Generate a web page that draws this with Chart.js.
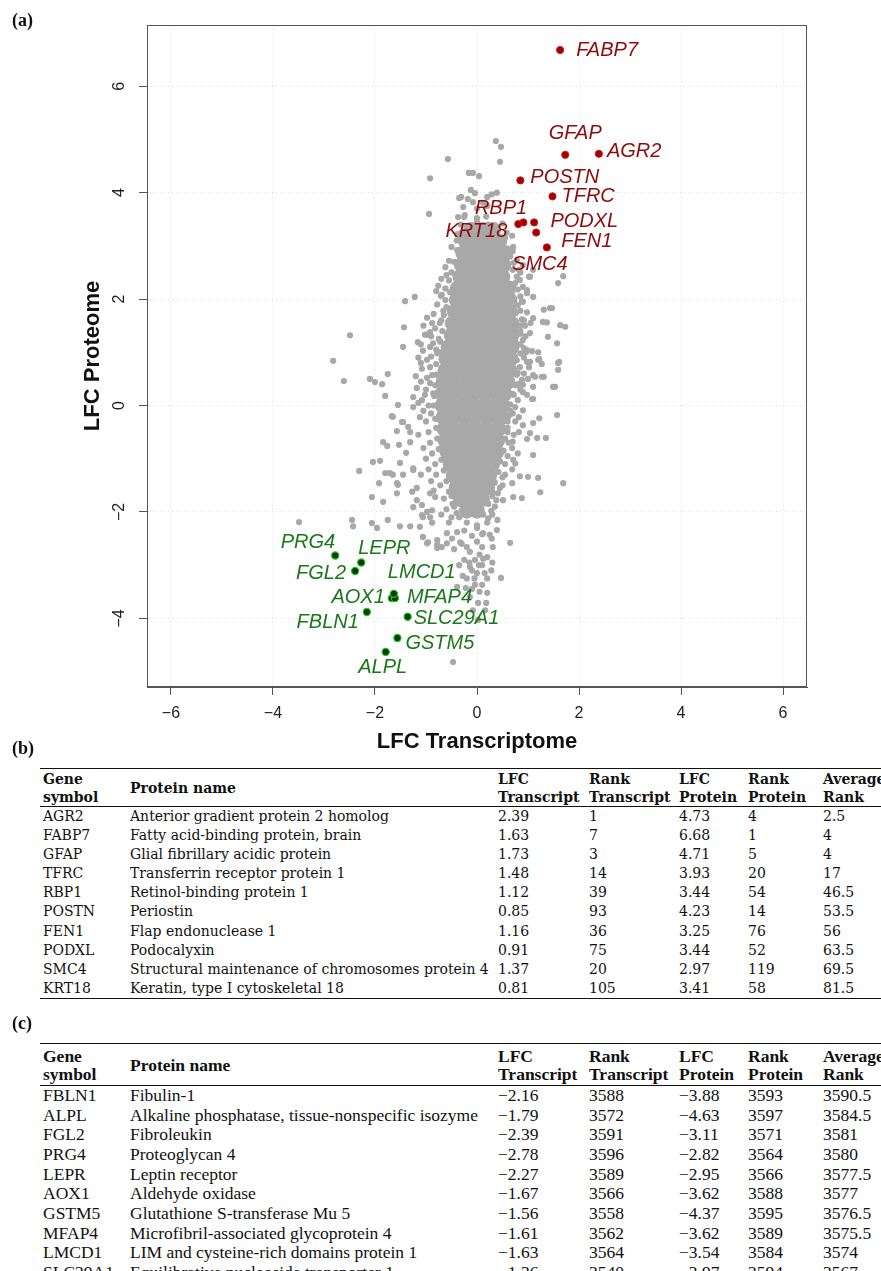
<!DOCTYPE html>
<html>
<head>
<meta charset="utf-8">
<script src="https://cdn.jsdelivr.net/npm/chart.js@4.4.1/dist/chart.umd.min.js"></script>
<style>
  html, body { margin: 0; padding: 0; background: #fff; }
  body { position: relative; width: 881px; height: 1271px; overflow: hidden; }
  #plot { position: absolute; left: 0; top: 0; }
  .panel { position: absolute; left: 12px; font-family: "Liberation Serif", serif; font-weight: bold; font-size: 18px; line-height: 18px; color: #111; }
  .tbl { position: absolute; left: 40px; width: 900px; border-collapse: collapse; table-layout: fixed; color: #111; }
  .tbl th, .tbl td { padding: 0 0 0 3px; text-align: left; white-space: nowrap; overflow: hidden; vertical-align: middle; }
  .tbl thead tr { border-top: 1.5px solid #111; border-bottom: 1px solid #111; }
  .tbl tbody tr:last-child { border-bottom: 1.5px solid #111; }
  .tbl th { font-weight: bold; line-height: 18px; }
  #tblB { top: 768px; font-family: "DejaVu Serif", serif; font-size: 14px; }
  #tblB thead tr { height: 38px; }
  #tblB tbody tr { height: 19.1px; line-height: 19px; }
  #tblC { top: 1043px; font-family: "Liberation Serif", serif; font-size: 17.5px; }
  #tblC thead tr { height: 42px; }
  #tblC tbody tr { height: 19.7px; line-height: 19px; }
</style>
</head>
<body>
<canvas id="plot" width="881" height="760"></canvas>
<div class="panel" style="top:11px">(a)</div>
<div class="panel" style="top:739px">(b)</div>
<div class="panel" style="top:1014px">(c)</div>
<table class="tbl" id="tblB"></table>
<table class="tbl" id="tblC"></table>
<script>
// axes
const xTicks = [-6, -4, -2, 0, 2, 4, 6];
const yTicks = [-4, -2, 0, 2, 4, 6];
const xTitle = "LFC Transcriptome";
const yTitle = "LFC Proteome";

// (b) most up-regulated
const upGenes = ["AGR2", "FABP7", "GFAP", "TFRC", "RBP1", "POSTN", "FEN1", "PODXL", "SMC4", "KRT18"];
const upNames = ["Anterior gradient protein 2 homolog", "Fatty acid-binding protein, brain", "Glial fibrillary acidic protein",
  "Transferrin receptor protein 1", "Retinol-binding protein 1", "Periostin", "Flap endonuclease 1", "Podocalyxin",
  "Structural maintenance of chromosomes protein 4", "Keratin, type I cytoskeletal 18"];
const upLfcTranscript = [2.39, 1.63, 1.73, 1.48, 1.12, 0.85, 1.16, 0.91, 1.37, 0.81];
const upRankTranscript = [1, 7, 3, 14, 39, 93, 36, 75, 20, 105];
const upLfcProtein = [4.73, 6.68, 4.71, 3.93, 3.44, 4.23, 3.25, 3.44, 2.97, 3.41];
const upRankProtein = [4, 1, 5, 20, 54, 14, 76, 52, 119, 58];
const upAvgRank = [2.5, 4, 4, 17, 46.5, 53.5, 56, 63.5, 69.5, 81.5];

// (c) most down-regulated
const downGenes = ["FBLN1", "ALPL", "FGL2", "PRG4", "LEPR", "AOX1", "GSTM5", "MFAP4", "LMCD1", "SLC29A1"];
const downNames = ["Fibulin-1", "Alkaline phosphatase, tissue-nonspecific isozyme", "Fibroleukin", "Proteoglycan 4",
  "Leptin receptor", "Aldehyde oxidase", "Glutathione S-transferase Mu 5", "Microfibril-associated glycoprotein 4",
  "LIM and cysteine-rich domains protein 1", "Equilibrative nucleoside transporter 1"];
const downLfcTranscript = [-2.16, -1.79, -2.39, -2.78, -2.27, -1.67, -1.56, -1.61, -1.63, -1.36];
const downRankTranscript = [3588, 3572, 3591, 3596, 3589, 3566, 3558, 3562, 3564, 3540];
const downLfcProtein = [-3.88, -4.63, -3.11, -2.82, -2.95, -3.62, -4.37, -3.62, -3.54, -3.97];
const downRankProtein = [3593, 3597, 3571, 3564, 3566, 3588, 3595, 3589, 3584, 3594];
const downAvgRank = [3590.5, 3584.5, 3581, 3580, 3577.5, 3577, 3576.5, 3575.5, 3574, 3567];

// dense middle of the grey cloud, read row by row: [LFC protein, [LFC transcript...]]
const cloudCore = [
  [3.30, [-0.12, 0.10, 0.32]],
  [3.08, [-0.22, 0.00, 0.22, 0.44]],
  [2.86, [-0.27, -0.05, 0.17, 0.39, 0.55]],
  [2.64, [-0.30, -0.08, 0.14, 0.36, 0.52]],
  [2.42, [-0.33, -0.11, 0.11, 0.33, 0.50]],
  [2.20, [-0.38, -0.16, 0.06, 0.28, 0.50, 0.62]],
  [1.98, [-0.40, -0.20, 0.02, 0.24, 0.46, 0.64]],
  [1.76, [-0.44, -0.24, -0.02, 0.20, 0.42, 0.64]],
  [1.54, [-0.48, -0.28, -0.06, 0.16, 0.38, 0.60, 0.68]],
  [1.32, [-0.50, -0.32, -0.10, 0.12, 0.34, 0.56, 0.68]],
  [1.10, [-0.56, -0.36, -0.14, 0.08, 0.30, 0.52, 0.68]],
  [0.88, [-0.60, -0.40, -0.18, 0.04, 0.26, 0.48, 0.66]],
  [0.66, [-0.62, -0.44, -0.22, 0.00, 0.22, 0.44, 0.64]],
  [0.44, [-0.66, -0.46, -0.24, -0.02, 0.20, 0.42, 0.60]],
  [0.22, [-0.68, -0.50, -0.28, -0.06, 0.16, 0.38, 0.54]],
  [0.00, [-0.68, -0.50, -0.30, -0.08, 0.14, 0.36, 0.50]],
  [-0.22, [-0.66, -0.48, -0.26, -0.04, 0.18, 0.40, 0.48]],
  [-0.44, [-0.64, -0.46, -0.24, -0.02, 0.20, 0.42]],
  [-0.66, [-0.62, -0.42, -0.20, 0.02, 0.24, 0.40]],
  [-0.88, [-0.58, -0.38, -0.16, 0.06, 0.28, 0.38]],
  [-1.10, [-0.52, -0.32, -0.10, 0.12, 0.30]],
  [-1.32, [-0.46, -0.26, -0.04, 0.18, 0.24]],
  [-1.54, [-0.40, -0.20, 0.02, 0.20]],
  [-1.76, [-0.32, -0.12, 0.10]],
  [-1.98, [-0.20, 0.00]]
];

// grey proteins hugging the core: [LFC transcript, LFC protein]
const cloudEdge = [
  [-0.32,3.4],[0.5,3.42],[-0.38,3.22],[0.58,3.25],[-0.5,2.98],[0.7,2.9],[-0.55,2.72],[-0.62,2.6],[0.72,2.68],
  [0.82,2.55],[-0.6,2.45],[-0.7,2.38],[0.78,2.42],[0.85,2.5],[-0.62,2.2],[-0.8,2.15],[0.8,2.18],[-0.62,1.98],
  [-0.78,1.9],[0.85,2.05],[0.8,1.88],[-0.66,1.78],[-0.85,1.72],[-0.98,1.65],[0.85,1.78],[0.98,1.75],[-0.7,1.6],
  [-0.82,1.45],[-1.05,1.5],[0.85,1.5],[0.92,1.6],[1.05,1.55],[-0.68,1.4],[-0.9,1.3],[0.85,1.4],[0.95,1.3],
  [-0.72,1.2],[-0.92,1.1],[-1.1,1.15],[0.85,1.15],[0.92,1.08],[-0.78,0.98],[-0.9,0.92],[-1.15,0.9],[0.85,0.98],
  [0.92,0.9],[1.02,0.72],[-0.8,0.78],[-0.92,0.72],[-1.1,0.8],[0.84,0.72],[0.92,0.6],[1.0,0.5],[-0.8,0.58],
  [-0.98,0.52],[-1.2,0.55],[0.78,0.58],[0.88,0.48],[-0.82,0.38],[-1.0,0.3],[-1.1,0.45],[0.76,0.38],[0.85,0.3],
  [0.98,0.2],[-0.84,0.18],[-1.02,0.2],[0.7,0.22],[0.8,0.1],[-0.85,0.0],[-1.05,-0.1],[-1.15,0.05],[0.65,0.02],
  [0.7,-0.15],[0.82,-0.22],[-0.82,-0.25],[-1.0,-0.3],[-1.12,-0.22],[0.62,-0.2],[0.75,-0.3],[-0.8,-0.42],
  [-0.95,-0.5],[-1.15,-0.55],[0.6,-0.42],[0.72,-0.55],[0.82,-0.5],[-0.78,-0.62],[-0.92,-0.7],[-1.05,-0.8],
  [0.55,-0.62],[0.7,-0.68],[-0.75,-0.82],[-0.88,-0.9],[-1.0,-1.0],[0.52,-0.85],[0.6,-0.95],[-0.7,-1.02],
  [-0.82,-1.1],[-0.95,-1.2],[-1.1,-1.3],[0.45,-1.05],[0.55,-1.1],[-0.65,-1.22],[-0.8,-1.3],[-0.9,-1.42],
  [0.42,-1.25],[0.5,-1.35],[-0.6,-1.42],[-0.72,-1.5],[-0.85,-1.6],[0.35,-1.45],[0.45,-1.55],[-0.55,-1.62],
  [-0.65,-1.75],[0.3,-1.62],[0.38,-1.78],[-0.48,-1.85],[-0.6,-1.95],[0.22,-1.85],[0.28,-1.98],[-0.4,-2.02],
  [-0.5,-2.1],[-0.7,-2.05],[0.12,-2.05],[0.22,-2.12],[0.4,-2.15],[-0.3,-2.6],[-0.45,-2.7],[0.05,-2.8],
  [-0.15,-2.95],[0.12,-2.88],[-0.35,-3.0],[0.3,-2.95],[-0.05,-3.25],[0.15,-3.15],[-0.28,-3.2],[0.05,-3.5],
  [-0.1,-3.45],[0.28,-3.1]
];

// scattered grey proteins further out: [LFC transcript, LFC protein]
const cloudFringe = [
  [-0.92,4.27],[-0.94,3.6],[-0.57,4.63],[0.37,4.97],[0.47,4.86],[0.45,4.58],[-0.16,4.37],[-0.08,4.37],[0.04,4.31],
  [-0.12,4.05],[-0.04,3.99],[-0.35,3.9],[-0.27,3.73],[-0.25,3.54],[0.2,3.92],[0.29,3.97],[0.39,4.0],[-0.08,3.82],
  [0.12,3.81],[-0.31,3.92],[-0.18,3.88],[0.0,3.7],[0.2,3.75],[-0.37,3.54],[-0.24,3.58],[0,3.52],[0.18,3.55],
  [-0.33,3.17],[-0.39,2.92],[-0.2,3.05],[-0.29,2.79],[0.69,3.19],[0.71,2.98],[0.78,2.73],[0.9,2.64],[1.04,2.42],
  [1.59,2.3],[1.69,2.43],[1.02,2.42],[1.1,2.55],[-0.2,3.35],[0.0,3.45],[0.22,3.4],[0.4,3.3],[0.55,3.15],[-0.4,3.1],
  [-0.3,3.25],[0.6,2.95],[0.65,2.8],[0.7,2.55],[-0.45,2.7],[-0.5,2.5],[-0.55,2.35],[0.75,2.3],
  [-0.76,2.25],[-1.22,2.04],[-1.41,1.96],[-2.49,1.32],[-2.82,0.84],[-1.43,1.47],[-1.45,1.1],[-1.16,1.19],[-0.98,1.33],
  [-0.92,1.38],[-0.73,1.55],[-0.69,2.08],[-0.53,2.13],[-0.88,1.55],[-1.02,1.33],[-0.71,2.06],[-0.6,1.85],[-0.65,1.7],
  [-0.75,1.25],[-0.8,1.05],[-0.86,1.17],[-0.73,1.0],[-0.69,0.86],[-1.06,1.03],[-0.98,0.86],[-1.08,0.69],[-0.88,0.57],
  [-0.92,0.42],[-0.86,0.23],[-1.25,0.16],[-1.08,0.1],[-1.18,0.33],[-1.25,-0.03],[-0.95,0.0],[-0.9,-0.15],
  [-2.61,0.46],[-2.1,0.5],[-2.0,0.44],[-1.86,0.4],[-1.75,0.59],[-1.8,0.18],[-1.55,0.01],[-1.65,-0.21],[-1.45,-0.31],
  [-1.35,-0.4],[-1.31,-0.5],[-1.57,-0.48],[-1.84,-0.69],[-1.76,-0.76],[-1.53,-0.74],[-1.39,-0.89],[-2.04,-1.06],
  [-1.9,-1.04],[-2.31,-1.23],[-1.8,-1.27],[-1.65,-1.3],[-1.51,-1.08],[-1.25,-1.18],[-1.92,-1.46],[-1.55,-1.49],
  [-1.45,-1.3],[-2.06,-1.72],[-1.84,-1.81],[-1.57,-1.65],[-1.27,-1.62],[-1.18,-1.78],[-1.25,-1.91],[-1.08,-1.87],
  [-0.92,-1.65],[-0.82,-1.72],[-0.98,-2.0],[-1.08,-2.06],[-0.92,-2.1],[-2.45,-2.15],[-2.43,-2.27],[-2.06,-2.21],
  [-1.96,-2.3],[-1.75,-2.15],[-1.51,-2.27],[-1.31,-2.27],[-1.12,-2.28],[-1.06,-2.47],[-0.96,-2.57],[-0.78,-2.53],
  [-0.69,-2.66],[-0.78,-2.68],[-0.59,-2.4],[-0.49,-2.5],[-0.39,-2.38],[-0.33,-2.57],[-0.2,-2.66],[-0.14,-2.75],
  [0,-2.56],[0.1,-2.66],[0.25,-2.43],[0.39,-2.34],[0,-2.3],[0.12,-2.4],[0.29,-2.5],[0.65,-2.58],[-3.49,-2.19],
  [-1.67,-0.2],[-1.47,-0.31],[-1.31,-0.69],[-1.25,-1.21],[-1.71,-1.27],[-1.57,-1.46],[-1.18,-1.55],[-0.88,-1.97],
  [-1.06,-2.1],[-0.88,-2.2],[-0.78,-2.62],[-0.98,-2.59],[-0.59,-2.59],
  [-0.04,-2.9],[-0.14,-3.03],[0,-3.15],[-0.04,-3.37],[0.1,-3.37],[-0.39,-3.41],[-0.22,-3.43],[-0.14,-3.6],[0.02,-3.71],
  [0.16,-3.85],[-0.08,-3.85],[0.02,-4.03],[0.18,-3.71],[0.04,-3.0],[0.2,-2.85],[0.31,-2.66],[-0.47,-4.82],[0.47,-3.24],
  [0.2,-3.52],[-0.25,-2.9],[-0.1,-3.1],[0.1,-3.0],[0.2,-3.25],[-0.2,-3.25],[-0.2,-2.2],[0.0,-2.25],[0.2,-2.2],
  [-0.35,-2.1],[0.3,-2.05],[0.1,-2.42],[-0.1,-2.45],[-0.25,-2.35],[-0.45,-1.9],[-0.5,-1.7],[-0.55,-2.2],[0.35,-1.9],
  [0.3,-1.7],
  [1.1,1.64],[1.29,1.57],[1.43,1.83],[1.31,1.8],[1.47,1.83],[1.39,1.29],[1.57,1.17],[1.63,1.51],[1.73,1.48],[1.22,0.87],
  [0.98,1.04],[1.04,0.82],[1.61,0.82],[0.9,1.95],[0.98,2.17],[1.1,2.04],[0.65,2.23],[1.37,1.56],[1.04,1.36],[0.96,1.0],
  [1.08,1.02],[1.2,0.86],[1.27,0.78],[1.14,0.54],[1.31,0.54],[1.1,0.35],[1.49,0.35],[1.59,0.67],[1.1,0.12],[0.75,-0.03],
  [0.9,-0.09],[0.98,2.11],[0.9,2.23],[0.84,2.36],[0.71,2.0],[0.88,1.95],[0.76,1.74],[0.9,1.23],[0.98,0.82],[0.8,0.61],
  [0.94,1.5],[0.88,1.62],[0.75,1.42],[0.75,1.05],[0.78,0.85],[0.8,0.4],[0.72,0.2],[0.75,1.2],[0.85,1.35],[1.2,1.0],
  [1.53,0.35],[1.08,0.12],[0.9,0.25],[0.9,0.39],[1.1,0.57],[1.27,0.54],[1.59,0.8],
  [1.57,-0.18],[1.69,-1.46],[1.24,-1.63],[1.35,-0.61],[1.18,-0.61],[1.1,-0.93],[0.98,-0.63],[1.04,-0.52],[0.9,-0.37],
  [1.1,-0.33],[1.22,-0.24],[0.88,-1.74],[0.71,-1.72],[0.69,-1.46],[0.84,-1.33],[1.0,-1.34],[1.2,-1.36],[0.8,-0.9],
  [0.75,-1.09],[0.69,-0.8],[0.71,-1.02],[0.69,-1.2],[0.41,-1.65],[0.51,-1.78],[0.6,-0.5],[0.62,-0.7],[0.55,-1.3],
  [0.5,-1.5],[0.6,-0.3],[0.65,-0.1]
];

// where each gene name sits next to its dot: [dx px, dy px, align]
const labelPlacement = {
  FABP7: [16, 0, "left"], GFAP: [10, -21, "center"], AGR2: [8, -2, "left"], POSTN: [10, -3, "left"],
  TFRC: [9, 0, "left"], RBP1: [-7, -14, "right"], PODXL: [27, -1, "left"], KRT18: [-11, 7, "right"],
  FEN1: [25, 9, "left"], SMC4: [-7, 17, "center"],
  PRG4: [0, -13, "right"], LEPR: [-3, -14, "left"], FGL2: [-9, 2, "right"], LMCD1: [-6, -21, "left"],
  AOX1: [-7, -1, "right"], MFAP4: [12, -1, "left"], FBLN1: [-8, 10, "right"], SLC29A1: [6, 2, "left"],
  GSTM5: [8, 5, "left"], ALPL: [-3, 16, "center"]
};

const minus = (v) => (v < 0 ? "\u2212" + Math.abs(v) : String(v));
const fmtLfc = (v) => (v < 0 ? "\u2212" + Math.abs(v).toFixed(2) : v.toFixed(2));

const corePoints = cloudCore.flatMap(([yv, xs]) => xs.map((xv) => ({ x: xv, y: yv })));
const greyPoints = cloudEdge.concat(cloudFringe).map(([xv, yv]) => ({ x: xv, y: yv }));
const upPoints = upGenes.map((g, i) => ({ x: upLfcTranscript[i], y: upLfcProtein[i] }));
const downPoints = downGenes.map((g, i) => ({ x: downLfcTranscript[i], y: downLfcProtein[i] }));

const rAxes = {
  id: "rAxes",
  afterDatasetsDraw(chart) {
    const { ctx, scales: { x, y } } = chart;
    ctx.save();
    ctx.font = "italic 20px 'Liberation Sans', Arial, sans-serif";
    ctx.textBaseline = "middle";
    const put = (genes, xs, ys, color) => {
      ctx.fillStyle = color;
      genes.forEach((g, i) => {
        const [dx, dy, align] = labelPlacement[g];
        ctx.textAlign = align;
        ctx.fillText(g, x.getPixelForValue(xs[i]) + dx, y.getPixelForValue(ys[i]) + dy);
      });
    };
    put(upGenes, upLfcTranscript, upLfcProtein, "#8e0b0b");
    put(downGenes, downLfcTranscript, downLfcProtein, "#197819");
    ctx.restore();
  },
  afterDraw(chart) {
    const { ctx, chartArea: a, scales: { y } } = chart;
    ctx.save();
    ctx.strokeStyle = "#555";
    ctx.lineWidth = 1;
    ctx.strokeRect(a.left + 0.5, a.top + 0.5, a.right - a.left - 1, a.bottom - a.top - 1);

    ctx.fillStyle = "#222";
    ctx.font = "16px 'Liberation Sans', Arial, sans-serif";
    ctx.textAlign = "center";
    ctx.textBaseline = "middle";
    yTicks.forEach((v) => {
      ctx.save();
      ctx.translate(a.left - 27, y.getPixelForValue(v));
      ctx.rotate(-Math.PI / 2);
      ctx.fillText(minus(v), 0, 0);
      ctx.restore();
    });

    ctx.fillStyle = "#111";
    ctx.font = "bold 22px 'Liberation Sans', Arial, sans-serif";
    ctx.fillText(xTitle, (a.left + a.right) / 2, a.bottom + 55);
    ctx.translate(a.left - 54, (a.top + a.bottom) / 2);
    ctx.rotate(-Math.PI / 2);
    ctx.fillText(yTitle, 0, 0);
    ctx.restore();
  }
};

const gridOpts = { color: "#dedede", lineWidth: 1, tickLength: 8, tickColor: "#555", tickWidth: 1, tickBorderDash: [] };

new Chart(document.getElementById("plot"), {
  type: "scatter",
  data: {
    datasets: [
      { label: "up", data: upPoints, pointRadius: 3.6, pointBackgroundColor: "#a00000", pointBorderColor: "#d21a1a", pointBorderWidth: 1, order: 0 },
      { label: "down", data: downPoints, pointRadius: 3.6, pointBackgroundColor: "#083c08", pointBorderColor: "#22c422", pointBorderWidth: 1.2, order: 0 },
      { label: "grey", data: greyPoints, pointRadius: 3.1, pointBackgroundColor: "#a8a8a8", pointBorderWidth: 0, order: 2 },
      { label: "core", data: corePoints, pointRadius: 7.8, pointBackgroundColor: "#a8a8a8", pointBorderWidth: 0, order: 3 }
    ]
  },
  options: {
    responsive: false,
    animation: false,
    events: [],
    devicePixelRatio: 1,
    layout: { padding: { left: 0, top: 25, right: 74, bottom: 0 } },
    plugins: { legend: { display: false }, tooltip: { enabled: false } },
    scales: {
      x: {
        min: -6.47, max: 6.47,
        afterBuildTicks: (s) => { s.ticks = xTicks.map((v) => ({ value: v })); },
        afterFit: (s) => { s.height = 73; },
        ticks: { autoSkip: false, maxRotation: 0, padding: 9, color: "#222",
          font: { family: "'Liberation Sans', Arial, sans-serif", size: 16 }, callback: (v) => minus(v) },
        grid: gridOpts,
        border: { display: true, color: "#555", dash: [1, 3] }
      },
      y: {
        min: -5.29, max: 7.15,
        afterBuildTicks: (s) => { s.ticks = yTicks.map((v) => ({ value: v })); },
        afterFit: (s) => { s.width = 147; },
        ticks: { display: false },
        grid: gridOpts,
        border: { display: true, color: "#555", dash: [1, 3] }
      }
    }
  },
  plugins: [rAxes]
});

// tables (b) and (c)
const colWidths = [87, 368, 91, 90, 69, 75, 120];
const headers = ["Gene<br>symbol", "Protein name", "LFC<br>Transcript", "Rank<br>Transcript", "LFC<br>Protein", "Rank<br>Protein", "Average<br>Rank"];

function buildTable(id, genes, names, lfcT, rankT, lfcP, rankP, avg) {
  const t = document.getElementById(id);
  let html = "<colgroup>" + colWidths.map((w) => `<col style="width:${w}px">`).join("") + "</colgroup>";
  html += "<thead><tr>" + headers.map((h) => `<th>${h}</th>`).join("") + "</tr></thead><tbody>";
  genes.forEach((g, i) => {
    const cells = [g, names[i], fmtLfc(lfcT[i]), rankT[i], fmtLfc(lfcP[i]), rankP[i], avg[i]];
    html += "<tr>" + cells.map((c) => `<td>${c}</td>`).join("") + "</tr>";
  });
  t.innerHTML = html + "</tbody>";
}

buildTable("tblB", upGenes, upNames, upLfcTranscript, upRankTranscript, upLfcProtein, upRankProtein, upAvgRank);
buildTable("tblC", downGenes, downNames, downLfcTranscript, downRankTranscript, downLfcProtein, downRankProtein, downAvgRank);
</script>
</body>
</html>
